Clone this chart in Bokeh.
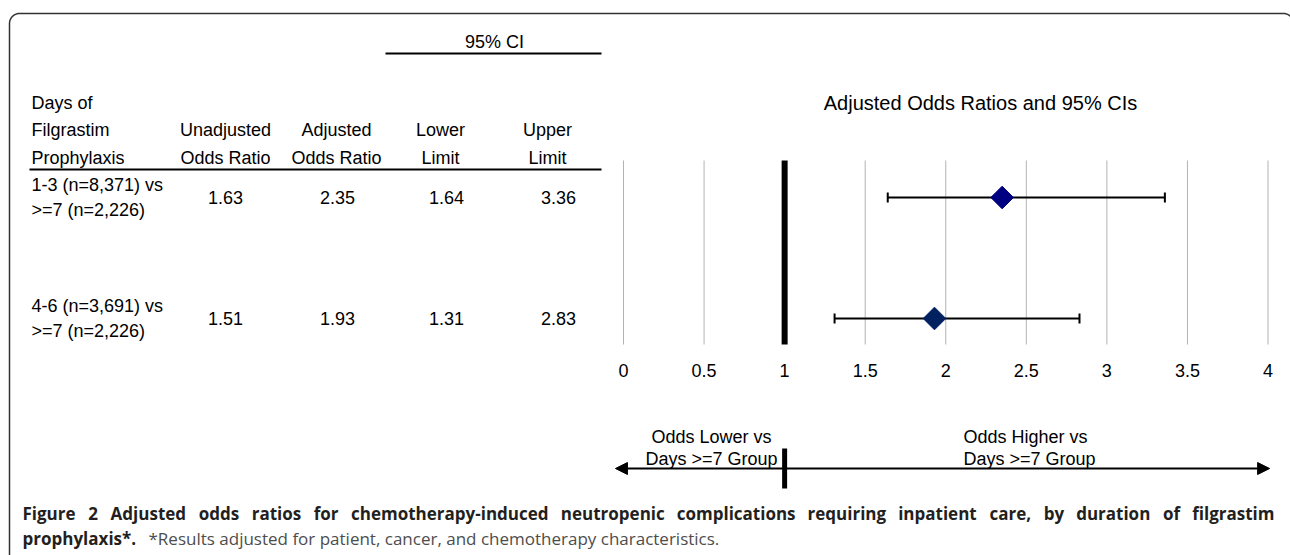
import numpy as np
from bokeh.plotting import figure
from bokeh.models import Range1d, ColumnDataSource, Arrow, NormalHead
from bokeh.core.properties import value
from bokeh.embed import file_html
from bokeh.resources import INLINE

# ---------------- data ----------------
group_line1 = ["1-3 (n=8,371) vs", "4-6 (n=3,691) vs"]
group_line2 = [">=7 (n=2,226)", ">=7 (n=2,226)"]
unadjusted_or = [1.63, 1.51]
adjusted_or = [2.35, 1.93]
lower_limit = [1.64, 1.31]
upper_limit = [3.36, 2.83]
marker_colors = ["#000080", "#002060"]
or_ticks = [0, 0.5, 1, 1.5, 2, 2.5, 3, 3.5, 4]
or_tick_labels = ["0", "0.5", "1", "1.5", "2", "2.5", "3", "3.5", "4"]
reference_or = 1

header_col1 = ["Days of", "Filgrastim", "Prophylaxis"]
header_cols = [["Unadjusted", "Odds Ratio"], ["Adjusted", "Odds Ratio"],
               ["Lower", "Limit"], ["Upper", "Limit"]]
ci_header = "95% CI"
chart_title = "Adjusted Odds Ratios and 95% CIs"
lower_label = ["Odds Lower vs", "Days >=7 Group"]
higher_label = ["Odds Higher vs", "Days >=7 Group"]
caption_bold_1 = ("Figure 2 Adjusted odds ratios for chemotherapy-induced neutropenic "
                  "complications requiring inpatient care, by duration of filgrastim")
caption_bold_2 = "prophylaxis*."
caption_note = "*Results adjusted for patient, cancer, and chemotherapy characteristics."

# ---------------- layout (page pixels) ----------------
W, H = 1290, 555
FONT = value("Liberation Sans")
CAP_FONT = value("Open Sans")
FS = "18px"

p = figure(width=W, height=H, x_range=Range1d(0, W), y_range=Range1d(H, 0),
           output_backend="svg", toolbar_location=None, min_border=0,
           x_axis_type=None, y_axis_type=None, outline_line_color=None,
           background_fill_color="white", border_fill_color="white")
p.grid.visible = False

# odds-ratio scale: 0 -> px 623, 4 -> px 1267.5
px_0, px_4 = 623.0, 1267.5
ppu = (px_4 - px_0) / (or_ticks[-1] - or_ticks[0])
or_start = or_ticks[0] - px_0 / ppu
or_end = or_ticks[-1] + (W - px_4) / ppu
p.extra_x_ranges = {"or": Range1d(or_start, or_end)}

# border with rounded corners (right edge falls just outside the page)
r = 10
top, left, right, bottom = 13, 9, 1293, H + 5
t1 = np.linspace(np.pi, 1.5 * np.pi, 12)
t2 = np.linspace(1.5 * np.pi, 2 * np.pi, 12)
bx = [left] + list(left + r + r * np.cos(t1)) + list(right - r + r * np.cos(t2)) + [right]
by = [bottom] + list(top + r + r * np.sin(t1)) + list(top + r + r * np.sin(t2)) + [bottom]
p.line(bx, by, line_color="#333333", line_width=1.5)

# ---------------- table ----------------
n = len(adjusted_or)
row_y = [197 + 121 * i for i in range(n)]
line_gap = 12.5

p.text(x=[494], y=[41], text=[ci_header], text_font=FONT, text_font_size=FS,
       text_align="center", text_baseline="middle")
p.segment(x0=[385], y0=[53], x1=[601], y1=[53], line_color="black", line_width=2)
hdr_y = [102, 129.5, 157]
p.text(x=[31] * 3, y=hdr_y, text=header_col1, text_font=FONT, text_font_size=FS,
       text_align="left", text_baseline="middle")
hdr_cx = [225, 336, 440, 547]
hx, hy, ht = [], [], []
for cx, lines in zip(hdr_cx, header_cols):
    for k, s in enumerate(lines):
        hx.append(cx); hy.append(hdr_y[1 + k]); ht.append(s)
p.text(x=hx, y=hy, text=ht, text_font=FONT, text_font_size=FS,
       text_align="center", text_baseline="middle")
p.segment(x0=[29], y0=[169], x1=[601], y1=[169], line_color="black", line_width=2)

p.text(x=[31] * n, y=[y - line_gap for y in row_y], text=group_line1, text_font=FONT,
       text_font_size=FS, text_align="left", text_baseline="middle")
p.text(x=[31] * n, y=[y + line_gap for y in row_y], text=group_line2, text_font=FONT,
       text_font_size=FS, text_align="left", text_baseline="middle")
val_cx = [225, 337, 446, 558]
for cx, col in zip(val_cx, [unadjusted_or, adjusted_or, lower_limit, upper_limit]):
    p.text(x=[cx] * n, y=row_y, text=[f"{v:.2f}" for v in col], text_font=FONT,
           text_font_size=FS, text_align="center", text_baseline="middle")

# ---------------- forest plot ----------------
g_top, g_bot = 160, 344
p.text(x=[980], y=[102], text=[chart_title], text_font=FONT, text_font_size="20px",
       text_align="center", text_baseline="middle")
grid_x = [v for v in or_ticks if v != reference_or]
p.segment(x0=grid_x, y0=[g_top] * len(grid_x), x1=grid_x, y1=[g_bot] * len(grid_x),
          line_color="#b3b3b3", line_width=1, x_range_name="or")
p.segment(x0=[reference_or], y0=[g_top], x1=[reference_or], y1=[g_bot],
          line_color="black", line_width=6, x_range_name="or")
p.text(x=or_ticks, y=[370] * len(or_ticks), text=or_tick_labels, text_font=FONT,
       text_font_size=FS, text_align="center", text_baseline="middle", x_range_name="or")

src = ColumnDataSource(dict(lo=lower_limit, hi=upper_limit, est=adjusted_or, y=row_y,
                            ytop=[y - 5 for y in row_y], ybot=[y + 5 for y in row_y],
                            color=marker_colors))
p.segment(x0="lo", y0="y", x1="hi", y1="y", source=src, line_color="black",
          line_width=2, x_range_name="or")
p.segment(x0="lo", y0="ytop", x1="lo", y1="ybot", source=src, line_color="black",
          line_width=2, x_range_name="or")
p.segment(x0="hi", y0="ytop", x1="hi", y1="ybot", source=src, line_color="black",
          line_width=2, x_range_name="or")
p.scatter(x="est", y="y", source=src, marker="square", angle=np.pi / 4, size=16,
          fill_color="color", line_color="color", x_range_name="or")

# ---------------- direction arrow ----------------
arrow_y = 468
p.add_layout(Arrow(x_start=-0.05, y_start=arrow_y, x_end=4.01, y_end=arrow_y,
                   x_range_name="or", line_width=2, line_color="black",
                   start=NormalHead(size=12, fill_color="black", line_color="black"),
                   end=NormalHead(size=12, fill_color="black", line_color="black")))
p.segment(x0=[reference_or], y0=[448], x1=[reference_or], y1=[488], line_color="black",
          line_width=5, x_range_name="or")
p.text(x=[711, 711], y=[436, 458], text=lower_label, text_font=FONT, text_font_size=FS,
       text_align="center", text_baseline="middle")
p.text(x=[963, 963], y=[436, 458], text=higher_label, text_font=FONT, text_font_size=FS,
       text_align="left", text_baseline="middle")

# ---------------- caption: first line justified word by word ----------------
CAP_X0, CAP_X1 = 22, 1274
CAP_Y1, CAP_Y2 = 513, 538
NAT_W = 1133.0  # natural width of the first caption line at 17px (measured)
# approximate relative advance widths of Open Sans Bold (per 1000 em)
adv = {" ": 260, "a": 590, "b": 613, "c": 502, "d": 613, "e": 584, "f": 380,
       "g": 546, "h": 634, "i": 296, "j": 296, "k": 607, "l": 296, "m": 954,
       "n": 634, "o": 607, "p": 613, "q": 613, "r": 439, "s": 493, "t": 418,
       "u": 634, "v": 566, "w": 843, "x": 579, "y": 566, "z": 491, "F": 555,
       "A": 690, "2": 571, "-": 322, ",": 291, ".": 291, "*": 530}
words = caption_bold_1.split(" ")
est = [sum(adv.get(c, 580) for c in w_) for w_ in words]
kf = NAT_W / (sum(est) + (len(words) - 1) * adv[" "])
ww = [kf * e for e in est]
gap = (CAP_X1 - CAP_X0 - sum(ww)) / (len(words) - 1)
half = len(words) // 2
lx, lt, rx, rt = [], [], [], []
xc = CAP_X0
for w_, wd in zip(words[:half], ww[:half]):
    lx.append(xc); lt.append(w_); xc += wd + gap
xc = CAP_X1
for w_, wd in zip(words[half:][::-1], ww[half:][::-1]):
    rx.append(xc); rt.append(w_); xc -= wd + gap
cap_kw = dict(text_font=CAP_FONT, text_font_size="17px", text_font_style="bold",
              text_color="#231f20", text_baseline="middle")
p.text(x=lx, y=[CAP_Y1] * len(lx), text=lt, text_align="left", **cap_kw)
p.text(x=rx, y=[CAP_Y1] * len(rx), text=rt, text_align="right", **cap_kw)
p.text(x=[CAP_X0], y=[CAP_Y2], text=[caption_bold_2], text_align="left", **cap_kw)
p.text(x=[148], y=[CAP_Y2], text=[caption_note], text_font=CAP_FONT,
       text_font_size="17px", text_color="#4d4d4d", text_align="left",
       text_baseline="middle")

open("out.html", "w").write(file_html(p, INLINE))
